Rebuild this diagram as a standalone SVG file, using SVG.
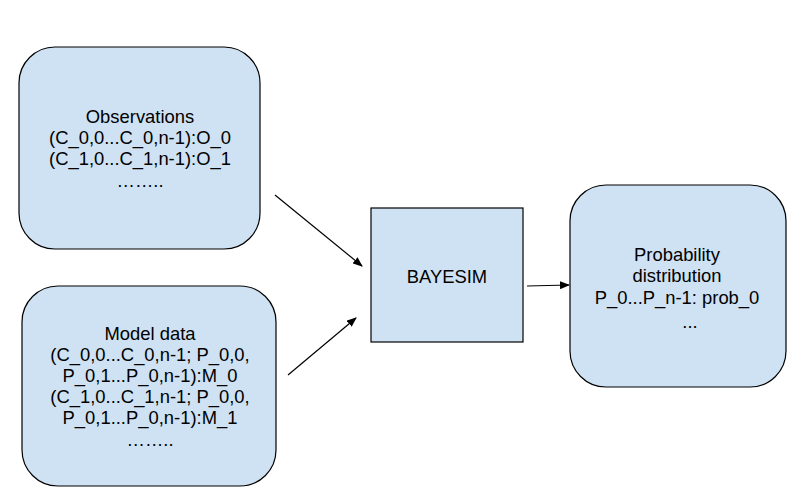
<svg xmlns="http://www.w3.org/2000/svg" width="800" height="500" viewBox="0 0 800 500">
<defs>
<marker id="ah" markerWidth="10" markerHeight="8" refX="9" refY="4" orient="auto" markerUnits="userSpaceOnUse">
<path d="M0,0 L10,4 L0,8 Z" fill="#000"/>
</marker>
<style>
.box{fill:#cfe2f3;stroke:#000;stroke-width:1.2}
.t{font-family:"Liberation Sans",Arial,sans-serif;font-size:18.4px;fill:#000;text-anchor:middle}
.c{stroke:#000;stroke-width:1.2;fill:none;marker-end:url(#ah)}
</style>
</defs>
<rect width="800" height="500" fill="#fff"/>
<g id="observations">
<rect class="box" x="19" y="47" width="241" height="202" rx="36"/>
<text class="t" x="140" y="123">Observations</text>
<text class="t" x="140" y="144">(C_0,0...C_0,n-1):O_0</text>
<text class="t" x="140" y="165">(C_1,0...C_1,n-1):O_1</text>
<text class="t" x="140" y="187">……..</text>
</g>
<g id="model">
<rect class="box" x="22" y="286" width="254" height="200" rx="36"/>
<text class="t" x="150" y="340">Model data</text>
<text class="t" x="150" y="361">(C_0,0...C_0,n-1; P_0,0,</text>
<text class="t" x="150" y="382">P_0,1...P_0,n-1):M_0</text>
<text class="t" x="150" y="403">(C_1,0...C_1,n-1; P_0,0,</text>
<text class="t" x="150" y="424">P_0,1...P_0,n-1):M_1</text>
<text class="t" x="150" y="446">……..</text>
</g>
<g id="bayesim">
<rect class="box" x="371" y="208" width="152" height="134"/>
<text class="t" x="447" y="283">BAYESIM</text>
</g>
<g id="prob">
<rect class="box" x="570" y="185" width="216" height="202" rx="36"/>
<text class="t" x="677" y="261">Probability</text>
<text class="t" x="677" y="282">distribution</text>
<text class="t" x="677" y="304">P_0...P_n-1: prob_0</text>
<text class="t" x="690" y="328">...</text>
</g>
<g id="connectors">
<line class="c" x1="275" y1="195" x2="362" y2="266"/>
<line class="c" x1="288" y1="375" x2="356" y2="318"/>
<line class="c" x1="527" y1="286" x2="569" y2="285"/>
</g>
</svg>
